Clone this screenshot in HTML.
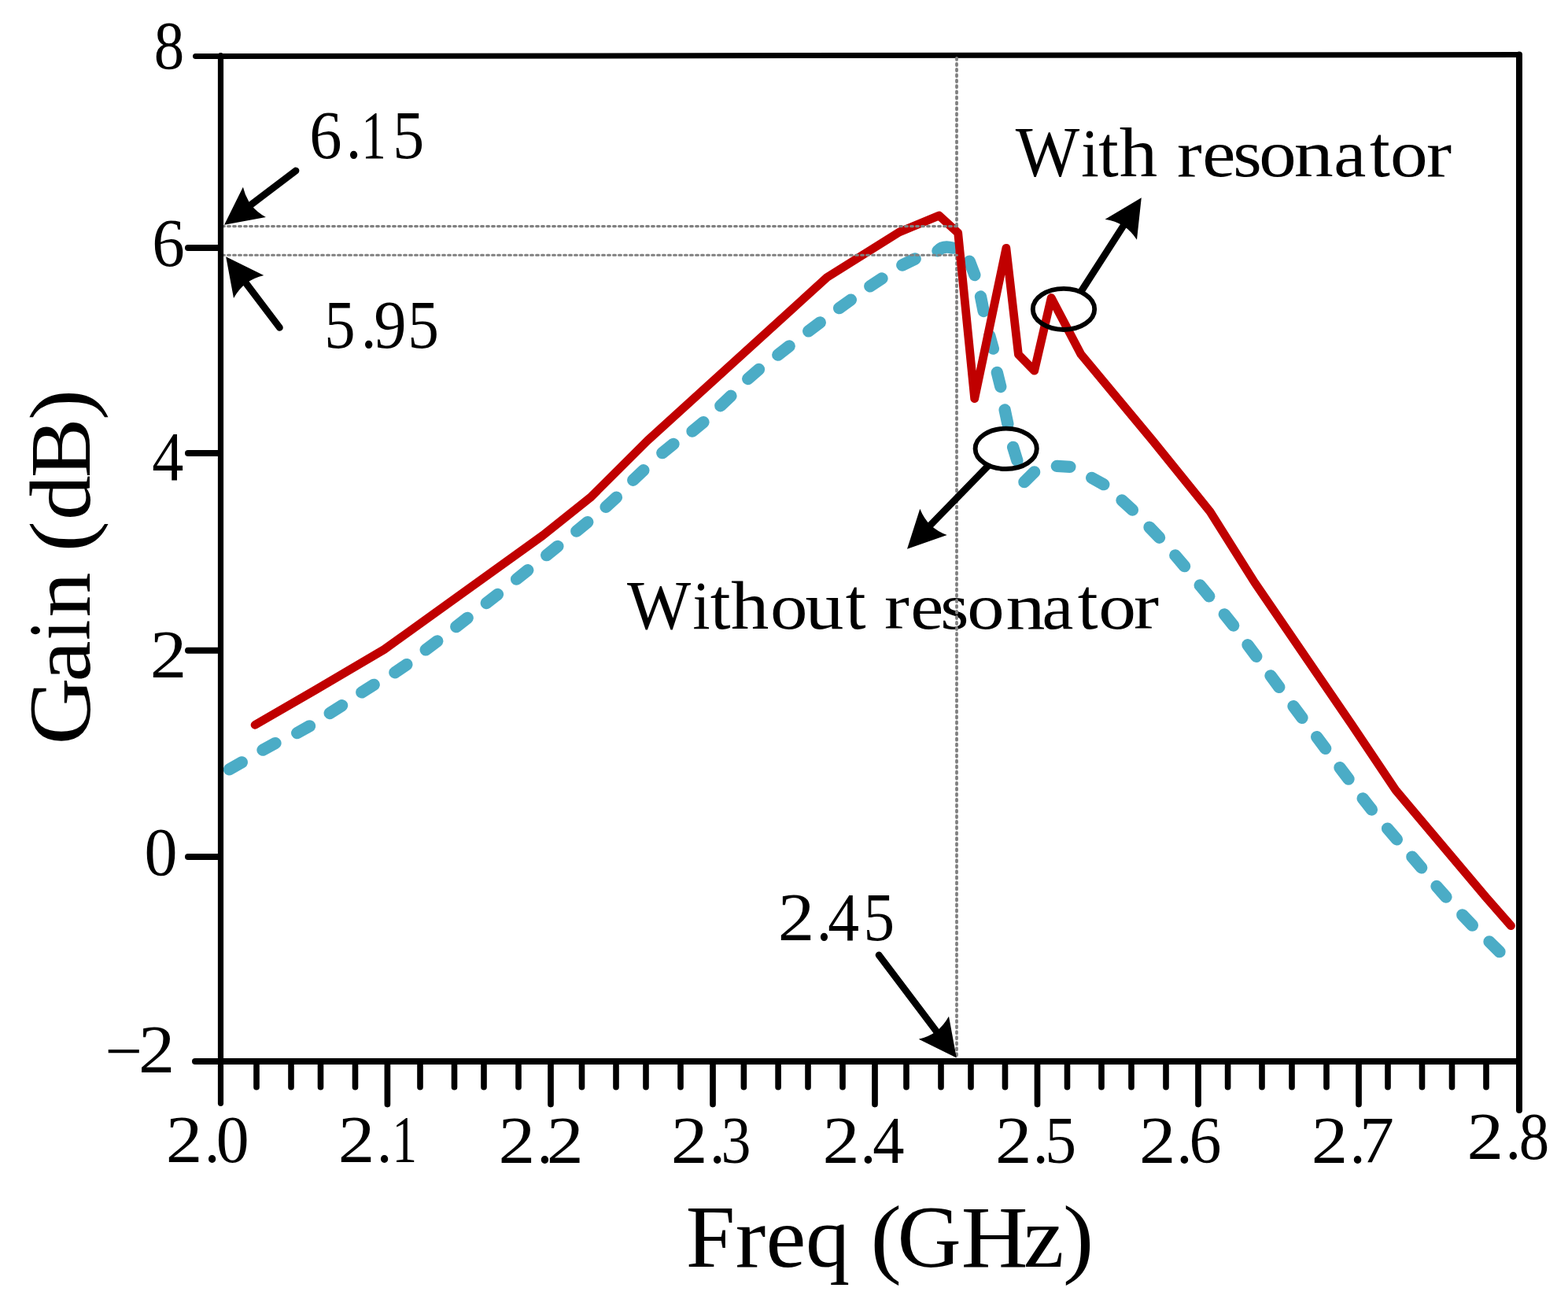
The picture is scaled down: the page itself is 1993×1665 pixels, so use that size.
<!DOCTYPE html>
<html lang="en">
<head>
<meta charset="utf-8">
<title>Gain versus frequency</title>
<style>
html,body{margin:0;padding:0;background:#fff;}
body{width:1993px;height:1665px;overflow:hidden;}
svg{display:block;}
text{font-family:"Liberation Serif",serif;fill:#000;}
</style>
</head>
<body>
<svg width="1993" height="1665" viewBox="0 0 1993 1665">
<rect width="1993" height="1665" fill="#fff"/>
<path d="M291.5 977.9L307.3 968.9 M334.0 953.2L350.0 944.6 M377.7 931.6L393.5 922.8 M419.2 906.5L434.6 896.7 M459.8 879.9L475.2 870.3 M501.9 854.8L516.9 844.6 M541.2 825.8L555.8 814.8 M579.8 796.6L594.2 785.4 M618.3 766.6L632.5 755.4 M656.6 736.1L670.8 724.7 M694.7 705.7L708.9 694.3 M732.8 675.2L746.8 663.6 M770.1 644.4L783.5 632.2 M804.7 610.3L817.9 597.7 M841.8 575.7L856.0 564.3 M880.0 548.2L894.0 536.6 M915.8 515.8L929.0 503.2 M950.7 481.5L964.5 469.5 M988.8 451.1L1003.2 439.9 M1027.7 420.9L1042.3 409.9 M1066.6 391.7L1081.4 381.1 M1105.8 363.9L1121.0 353.9 M1146.8 337.0L1163.2 329.0 M1191.9 318.9C1196 314.5 1202 312.6 1211 315.2 M1232.3 332.2L1238.9 349.5 M1246.5 377.0L1250.2 395.5 M1257.8 426.7L1262.4 443.2 M1267.3 473.4L1271.8 491.5 M1277.1 520.9L1280.9 538.9 M1287.6 568.3L1292.9 585.6 M1301.9 612.7L1314.7 599.9 M1343.3 592.4L1359.9 593.4 M1387.7 607.4L1402.8 615.7 M1426.0 635.9L1439.4 648.1 M1461.0 670.1L1473.6 683.3 M1493.8 705.9L1505.6 719.7 M1525.2 743.8L1536.8 757.8 M1556.3 780.8L1567.7 795.0 M1586.0 819.7L1596.8 834.3 M1615.0 858.8L1625.8 873.4 M1644.0 897.7L1655.0 912.3 M1673.7 936.7L1684.7 951.3 M1703.0 975.6L1714.0 990.2 M1732.2 1014.8L1743.4 1029.0 M1763.6 1053.1L1775.4 1066.9 M1794.9 1089.1L1806.7 1102.9 M1826.0 1126.5L1838.0 1140.1 M1858.8 1162.9L1871.4 1176.1 M1893.0 1196.9L1906.0 1209.7" fill="none" stroke="#4bacc6" stroke-width="15.3" stroke-linecap="round"/>
<g stroke="#000" fill="none" stroke-linecap="round">
<line x1="248.5" y1="71.5" x2="1931" y2="69.5" stroke-width="7"/>
<line x1="1931" y1="69.5" x2="1931" y2="1411" stroke-width="8"/>
<line x1="248" y1="1349" x2="1931" y2="1349" stroke-width="8"/>
</g>
<text y="798.90" ><tspan x="797.12" font-size="89.04" textLength="81.15" lengthAdjust="spacingAndGlyphs">W</tspan><tspan x="880.43" font-size="85.94" textLength="22.08" lengthAdjust="spacingAndGlyphs">i</tspan><tspan x="902.79" font-size="92.19" textLength="25.85" lengthAdjust="spacingAndGlyphs">t</tspan><tspan x="928.96" font-size="87.48" textLength="48.32" lengthAdjust="spacingAndGlyphs">h</tspan><tspan x="979.08" font-size="82.77" textLength="47.54" lengthAdjust="spacingAndGlyphs">o</tspan><tspan x="1023.51" font-size="84.10" textLength="48.96" lengthAdjust="spacingAndGlyphs">u</tspan><tspan x="1074.79" font-size="92.19" textLength="25.85" lengthAdjust="spacingAndGlyphs">t</tspan> <tspan x="1123.98" font-size="82.77" textLength="31.86" lengthAdjust="spacingAndGlyphs">r</tspan><tspan x="1157.30" font-size="82.77" textLength="42.09" lengthAdjust="spacingAndGlyphs">e</tspan><tspan x="1195.27" font-size="82.77" textLength="36.30" lengthAdjust="spacingAndGlyphs">s</tspan><tspan x="1229.29" font-size="82.77" textLength="47.42" lengthAdjust="spacingAndGlyphs">o</tspan><tspan x="1278.50" font-size="82.77" textLength="50.01" lengthAdjust="spacingAndGlyphs">n</tspan><tspan x="1324.44" font-size="82.69" textLength="39.89" lengthAdjust="spacingAndGlyphs">a</tspan><tspan x="1369.89" font-size="92.19" textLength="25.85" lengthAdjust="spacingAndGlyphs">t</tspan><tspan x="1396.26" font-size="82.77" textLength="47.78" lengthAdjust="spacingAndGlyphs">o</tspan><tspan x="1440.97" font-size="82.77" textLength="32.07" lengthAdjust="spacingAndGlyphs">r</tspan></text>
<line x1="1216" y1="73.85" x2="1216" y2="1344.5" stroke="#808080" stroke-width="3.8" stroke-dasharray="2.1 4.93" stroke-linecap="round"/>
<polyline points="324.1,921.4 400.4,877.3 488.3,825.5 690,680.5 750.4,632.3 823,560 1051.2,352.5 1143,295 1193.6,273.9 1217.7,296 1238.7,506.6 1278.9,315.3 1294.4,450.4 1314.7,471.2 1336.2,378.5 1374,450.4 1465.1,560 1538.1,650.3 1594.5,740 1717.5,920 1774,1004.3 1888.4,1140 1920.5,1176.6" fill="none" stroke="#c00000" stroke-width="10.8" stroke-linecap="round" stroke-linejoin="round"/>
<line x1="282.6" y1="287.6" x2="1218.5" y2="287.6" stroke="#808080" stroke-width="3.1" stroke-dasharray="2.8 4.2" stroke-linecap="round"/>
<line x1="282.6" y1="324.3" x2="1218.5" y2="324.3" stroke="#808080" stroke-width="3.1" stroke-dasharray="2.8 4.2" stroke-linecap="round"/>
<g stroke="#000" fill="none" stroke-linecap="round">
<line x1="280.5" y1="70.5" x2="280.5" y2="1402.3" stroke-width="7.2"/>
<line x1="239" y1="315" x2="280" y2="315" stroke-width="8"/>
<line x1="239" y1="576" x2="280" y2="576" stroke-width="8"/>
<line x1="239" y1="826.8" x2="280" y2="826.8" stroke-width="8"/>
<line x1="239" y1="1089" x2="280" y2="1089" stroke-width="8"/>
<path d="M492.4 1349V1403.6M700 1349V1403.6M906 1349V1403.6M1112 1349V1403.6M1318.5 1349V1403.6M1523 1349V1403.6M1727 1349V1403.6" stroke-width="7.7"/>
<path d="M326 1349V1381.8M370 1349V1381.8M407.5 1349V1381.8M451.5 1349V1381.8M534 1349V1381.8M577.5 1349V1381.8M615 1349V1381.8M659 1349V1381.8M739.5 1349V1381.8M783 1349V1381.8M821 1349V1381.8M865 1349V1381.8M945.4 1349V1381.8M989.1 1349V1381.8M1027 1349V1381.8M1071 1349V1381.8M1152 1349V1381.8M1196 1349V1381.8M1234 1349V1381.8M1277.5 1349V1381.8M1356.5 1349V1381.8M1400 1349V1381.8M1438 1349V1381.8M1482 1349V1381.8M1560.6 1349V1381.8M1604 1349V1381.8M1642 1349V1381.8M1686 1349V1381.8M1764 1349V1381.8M1807.5 1349V1381.8M1845.5 1349V1381.8M1889 1349V1381.8" stroke-width="7.6"/>
</g>
<ellipse cx="1352.0" cy="392.9" rx="39.2" ry="26.05" fill="none" stroke="#000" stroke-width="5.9"/>
<ellipse cx="1278.7" cy="570.3" rx="39.1" ry="25.7" fill="none" stroke="#000" stroke-width="5.9"/>
<line x1="376.0" y1="217.0" x2="317.4" y2="261.4" stroke="#000" stroke-width="8.8" stroke-linecap="round"/><path d="M285.1 285.8L308.9 237.7Q311.9 250.4 319.0 260.2Q326.4 269.6 337.9 276.0Z" fill="#000"/>
<line x1="355.4" y1="416.3" x2="311.6" y2="358.5" stroke="#000" stroke-width="8.8" stroke-linecap="round"/><path d="M287.2 326.2L335.3 350.0Q322.6 353.0 312.9 360.1Q303.4 367.5 297.0 379.0Z" fill="#000"/>
<line x1="1117.1" y1="1213.9" x2="1191.4" y2="1312.3" stroke="#000" stroke-width="8.8" stroke-linecap="round"/><path d="M1215.8 1344.6L1167.7 1320.8Q1180.5 1317.7 1190.2 1310.7Q1199.6 1303.3 1206.0 1291.8Z" fill="#000"/>
<line x1="1373.8" y1="371.0" x2="1428.9" y2="285.4" stroke="#000" stroke-width="8.8" stroke-linecap="butt"/><path d="M1450.8 251.3L1445.0 304.7Q1437.8 293.7 1427.8 287.0Q1417.6 280.8 1404.6 278.7Z" fill="#000"/>
<line x1="1255.9" y1="592.1" x2="1181.3" y2="668.8" stroke="#000" stroke-width="8.8" stroke-linecap="butt"/><path d="M1153.0 697.8L1169.3 646.7Q1174.2 658.8 1182.6 667.3Q1191.4 675.5 1203.7 680.1Z" fill="#000"/>
<g>
<text transform="translate(195.82 87.14) scale(0.8919 1)" font-size="86.22" >8</text>
<text transform="translate(193.16 338.23) scale(0.9562 1)" font-size="86.87" >6</text>
<text transform="translate(193.30 610.34) scale(0.9115 1)" font-size="88.00" >4</text>
<text transform="translate(190.70 860.90) scale(1.0797 1)" font-size="86.36" >2</text>
<text transform="translate(183.44 1112.23) scale(0.9714 1)" font-size="86.52" >0</text>
<text font-size="86.20"><tspan x="133.72" y="1364.90" textLength="47.39" lengthAdjust="spacingAndGlyphs">−</tspan><tspan x="175.93" y="1363.00" textLength="46.27" lengthAdjust="spacingAndGlyphs">2</tspan></text>
<text font-size="85.50"><tspan x="210.80" y="1477.20" textLength="46.65" lengthAdjust="spacingAndGlyphs">2</tspan><tspan x="259.71" y="1477.20" textLength="19.68" lengthAdjust="spacingAndGlyphs">.</tspan><tspan x="274.71" y="1477.20" textLength="41.88" lengthAdjust="spacingAndGlyphs">0</tspan></text>
<text font-size="85.50"><tspan x="429.70" y="1477.10" textLength="46.65" lengthAdjust="spacingAndGlyphs">2</tspan><tspan x="478.71" y="1477.10" textLength="19.68" lengthAdjust="spacingAndGlyphs">.</tspan><tspan x="498.46" y="1477.10" textLength="31.53" lengthAdjust="spacingAndGlyphs">1</tspan></text>
<text font-size="85.50"><tspan x="633.59" y="1477.50" textLength="46.77" lengthAdjust="spacingAndGlyphs">2</tspan><tspan x="682.56" y="1477.50" textLength="19.89" lengthAdjust="spacingAndGlyphs">.</tspan><tspan x="694.67" y="1477.50" textLength="47.02" lengthAdjust="spacingAndGlyphs">2</tspan></text>
<text font-size="85.50"><tspan x="852.89" y="1477.50" textLength="46.77" lengthAdjust="spacingAndGlyphs">2</tspan><tspan x="901.86" y="1477.50" textLength="19.89" lengthAdjust="spacingAndGlyphs">.</tspan><tspan x="916.46" y="1477.50" textLength="38.01" lengthAdjust="spacingAndGlyphs">3</tspan></text>
<text font-size="85.50"><tspan x="1045.56" y="1477.50" textLength="47.15" lengthAdjust="spacingAndGlyphs">2</tspan><tspan x="1093.34" y="1477.50" textLength="20.31" lengthAdjust="spacingAndGlyphs">.</tspan><tspan x="1109.13" y="1477.50" textLength="40.23" lengthAdjust="spacingAndGlyphs">4</tspan></text>
<text font-size="85.50"><tspan x="1265.01" y="1477.50" textLength="46.52" lengthAdjust="spacingAndGlyphs">2</tspan><tspan x="1312.66" y="1477.50" textLength="19.89" lengthAdjust="spacingAndGlyphs">.</tspan><tspan x="1328.27" y="1477.50" textLength="39.84" lengthAdjust="spacingAndGlyphs">5</tspan></text>
<text font-size="85.50"><tspan x="1448.12" y="1477.50" textLength="46.40" lengthAdjust="spacingAndGlyphs">2</tspan><tspan x="1495.34" y="1477.50" textLength="20.31" lengthAdjust="spacingAndGlyphs">.</tspan><tspan x="1511.58" y="1477.50" textLength="40.96" lengthAdjust="spacingAndGlyphs">6</tspan></text>
<text font-size="85.50"><tspan x="1666.81" y="1477.60" textLength="46.52" lengthAdjust="spacingAndGlyphs">2</tspan><tspan x="1715.40" y="1477.60" textLength="20.10" lengthAdjust="spacingAndGlyphs">.</tspan><tspan x="1728.11" y="1477.60" textLength="43.92" lengthAdjust="spacingAndGlyphs">7</tspan></text>
<text font-size="85.50"><tspan x="1864.60" y="1472.80" textLength="46.65" lengthAdjust="spacingAndGlyphs">2</tspan><tspan x="1913.61" y="1472.80" textLength="19.68" lengthAdjust="spacingAndGlyphs">.</tspan><tspan x="1930.87" y="1472.80" textLength="38.46" lengthAdjust="spacingAndGlyphs">8</tspan></text>
<text font-size="86.30"><tspan x="393.15" y="201.00" textLength="41.31" lengthAdjust="spacingAndGlyphs">6</tspan><tspan x="439.71" y="201.00" textLength="19.68" lengthAdjust="spacingAndGlyphs">.</tspan><tspan x="459.51" y="201.00" textLength="31.25" lengthAdjust="spacingAndGlyphs">1</tspan><tspan x="499.26" y="201.00" textLength="39.97" lengthAdjust="spacingAndGlyphs">5</tspan></text>
<text font-size="86.60"><tspan x="412.13" y="442.20" textLength="39.35" lengthAdjust="spacingAndGlyphs">5</tspan><tspan x="458.66" y="442.20" textLength="19.89" lengthAdjust="spacingAndGlyphs">.</tspan><tspan x="475.13" y="442.20" textLength="41.36" lengthAdjust="spacingAndGlyphs">9</tspan><tspan x="518.28" y="442.20" textLength="39.72" lengthAdjust="spacingAndGlyphs">5</tspan></text>
<text font-size="86.30"><tspan x="988.71" y="1195.00" textLength="46.52" lengthAdjust="spacingAndGlyphs">2</tspan><tspan x="1037.77" y="1195.00" textLength="19.46" lengthAdjust="spacingAndGlyphs">.</tspan><tspan x="1052.34" y="1195.00" textLength="39.91" lengthAdjust="spacingAndGlyphs">4</tspan><tspan x="1097.50" y="1195.00" textLength="39.59" lengthAdjust="spacingAndGlyphs">5</tspan></text>
<text y="223.50" ><tspan x="1290.72" font-size="90.41" textLength="81.55" lengthAdjust="spacingAndGlyphs">W</tspan><tspan x="1374.20" font-size="87.15" textLength="22.55" lengthAdjust="spacingAndGlyphs">i</tspan><tspan x="1396.20" font-size="93.61" textLength="25.54" lengthAdjust="spacingAndGlyphs">t</tspan><tspan x="1422.85" font-size="88.64" textLength="48.42" lengthAdjust="spacingAndGlyphs">h</tspan> <tspan x="1496.09" font-size="84.04" textLength="31.75" lengthAdjust="spacingAndGlyphs">r</tspan><tspan x="1528.18" font-size="84.04" textLength="42.21" lengthAdjust="spacingAndGlyphs">e</tspan><tspan x="1567.15" font-size="84.04" textLength="36.54" lengthAdjust="spacingAndGlyphs">s</tspan><tspan x="1600.39" font-size="84.04" textLength="47.42" lengthAdjust="spacingAndGlyphs">o</tspan><tspan x="1644.70" font-size="84.04" textLength="50.01" lengthAdjust="spacingAndGlyphs">n</tspan><tspan x="1695.24" font-size="83.97" textLength="41.12" lengthAdjust="spacingAndGlyphs">a</tspan><tspan x="1740.89" font-size="93.61" textLength="25.85" lengthAdjust="spacingAndGlyphs">t</tspan><tspan x="1767.07" font-size="84.04" textLength="47.66" lengthAdjust="spacingAndGlyphs">o</tspan><tspan x="1812.97" font-size="84.04" textLength="32.07" lengthAdjust="spacingAndGlyphs">r</tspan></text>
<text y="1609.65" ><tspan x="871.66" font-size="112.48" textLength="62.61" lengthAdjust="spacingAndGlyphs">F</tspan><tspan x="934.68" font-size="109.83" textLength="38.53" lengthAdjust="spacingAndGlyphs">r</tspan><tspan x="973.43" font-size="109.83" textLength="50.85" lengthAdjust="spacingAndGlyphs">e</tspan><tspan x="1023.94" font-size="109.47" textLength="56.19" lengthAdjust="spacingAndGlyphs">q</tspan> <tspan x="1106.50" font-size="111.34" textLength="39.42" lengthAdjust="spacingAndGlyphs">(</tspan><tspan x="1140.39" font-size="113.05" textLength="81.23" lengthAdjust="spacingAndGlyphs">G</tspan><tspan x="1221.72" font-size="112.17" textLength="84.83" lengthAdjust="spacingAndGlyphs">H</tspan><tspan x="1300.87" font-size="110.13" textLength="51.67" lengthAdjust="spacingAndGlyphs">z</tspan><tspan x="1351.10" font-size="111.34" textLength="39.29" lengthAdjust="spacingAndGlyphs">)</tspan></text>
<text transform="translate(114.00 942.00) rotate(-90)" y="0"><tspan x="-4.53" font-size="111.92" textLength="85.12" lengthAdjust="spacingAndGlyphs">G</tspan><tspan x="75.25" font-size="108.90" textLength="52.36" lengthAdjust="spacingAndGlyphs">a</tspan><tspan x="128.22" font-size="111.76" textLength="26.17" lengthAdjust="spacingAndGlyphs">i</tspan><tspan x="157.58" font-size="108.45" textLength="57.05" lengthAdjust="spacingAndGlyphs">n</tspan> <tspan x="240.62" font-size="110.98" textLength="39.29" lengthAdjust="spacingAndGlyphs">(</tspan><tspan x="280.90" font-size="110.98" textLength="56.79" lengthAdjust="spacingAndGlyphs">d</tspan><tspan x="334.72" font-size="111.03" textLength="75.94" lengthAdjust="spacingAndGlyphs">B</tspan><tspan x="408.00" font-size="110.98" textLength="39.29" lengthAdjust="spacingAndGlyphs">)</tspan></text>
</g>
</svg>
</body>
</html>
